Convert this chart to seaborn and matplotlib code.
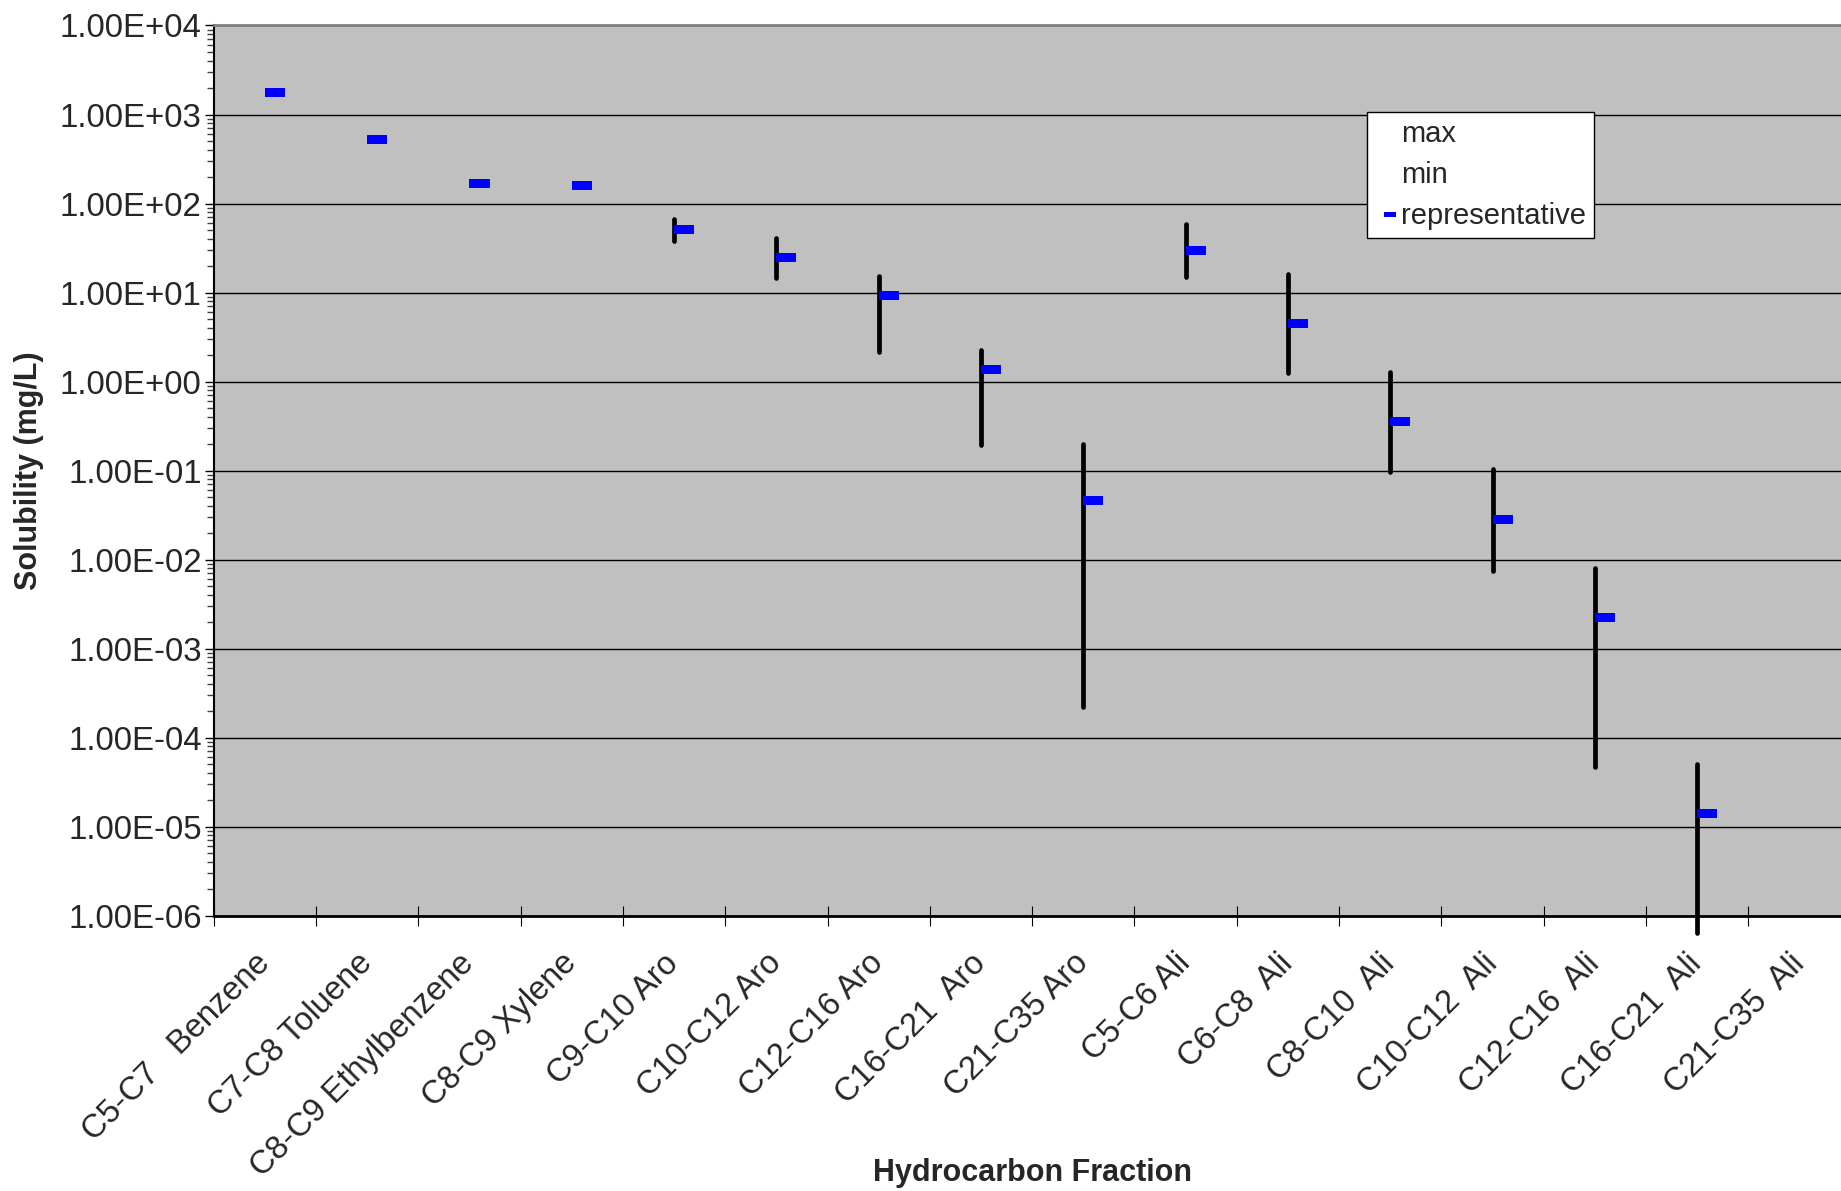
import numpy as np
import pandas as pd
import matplotlib
matplotlib.use("Agg")
import matplotlib.pyplot as plt
import seaborn as sns
from matplotlib.path import Path
from matplotlib.lines import Line2D
from matplotlib.ticker import FuncFormatter, LogLocator, FixedLocator, NullFormatter

# values (mg/L)
fractions = ["C5-C7   Benzene", "C7-C8 Toluene", "C8-C9 Ethylbenzene", "C8-C9 Xylene",
             "C9-C10 Aro", "C10-C12 Aro", "C12-C16 Aro", "C16-C21  Aro", "C21-C35 Aro",
             "C5-C6 Ali", "C6-C8  Ali", "C8-C10  Ali", "C10-C12  Ali", "C12-C16  Ali",
             "C16-C21  Ali", "C21-C35  Ali"]
max_sol = [1750, 526, 169, 160, 66.7, 41.2, 15.5, 2.26, 0.2,
           58.2, 16.3, 1.29, 0.103, 0.0081, 5.1e-5, np.nan]
min_sol = [1750, 526, 169, 160, 38.1, 14.5, 2.14, 0.192, 2.2e-4,
           15.1, 1.24, 0.0965, 0.00746, 4.7e-5, 6.4e-7, np.nan]
rep_sol = [1750, 526, 169, 160, 51.2, 24.6, 9.3, 1.36, 0.046,
           29.9, 4.52, 0.354, 0.0281, 0.00222, 1.4e-5, np.nan]

df = pd.DataFrame({"fraction": fractions, "max": max_sol, "min": min_sol, "rep": rep_sol})
df["pos"] = np.arange(len(df))

sns.set_style("ticks")
plt.rcParams["font.family"] = ["Liberation Sans", "DejaVu Sans"]

fig = plt.figure(figsize=(18.41, 11.91), dpi=100)
ax = fig.add_axes([0.1161, 0.2312, 0.8891, 0.7474])
ax.set_facecolor("#C0C0C0")

# dash marker starting at the data point and running to the right (Excel style)
dash_right = Path([(0, -0.225), (1, -0.225), (1, 0.225), (0, 0.225), (0, -0.225)],
                  [Path.MOVETO, Path.LINETO, Path.LINETO, Path.LINETO, Path.CLOSEPOLY])
dash_center = Path([(-0.5, -0.225), (0.5, -0.225), (0.5, 0.225), (-0.5, 0.225), (-0.5, -0.225)],
                   [Path.MOVETO, Path.LINETO, Path.LINETO, Path.LINETO, Path.CLOSEPOLY])

# high-low lines
rng = df.dropna()
ax.vlines(rng["pos"], rng["min"], rng["max"], color="black", linewidth=3.4,
          capstyle="round", zorder=3, clip_on=False)

# representative values
sns.scatterplot(data=df, x="pos", y="rep", marker=dash_right, s=830, color="blue",
                linewidth=0, edgecolor="none", zorder=4, ax=ax, legend=False)

ax.set_yscale("log")
ax.set_ylim(1e-6, 1e4)
ax.set_xlim(-0.5, len(df) - 0.5)

ax.yaxis.set_major_locator(LogLocator(base=10, numticks=20))
ax.yaxis.set_minor_locator(LogLocator(base=10, subs=np.arange(2, 10), numticks=200))
ax.yaxis.set_major_formatter(FuncFormatter(lambda v, p: f"{v:.2E}"))
ax.yaxis.set_minor_formatter(NullFormatter())

ax.xaxis.set_major_locator(FixedLocator(np.arange(len(df) + 1) - 0.5))
ax.xaxis.set_major_formatter(NullFormatter())
ax.set_xticks(df["pos"], minor=True)
ax.set_xticklabels(df["fraction"], minor=True, rotation=45, ha="right", va="center",
                   rotation_mode="anchor", fontsize=23.5)

ax.tick_params(axis="y", which="major", direction="out", length=6.7, width=1,
               color="black", labelsize=23.8, pad=2)
ax.tick_params(axis="y", which="minor", direction="out", length=4.8, width=1, color="#404040")
ax.tick_params(axis="x", which="major", direction="inout", length=13.7, width=0.8, color="black")
ax.tick_params(axis="x", which="minor", length=0, pad=31)

ax.grid(axis="y", which="major", color="black", linewidth=1)
ax.set_axisbelow(True)

ax.spines["top"].set_color("#808080")
ax.spines["top"].set_linewidth(2)
ax.spines["right"].set_visible(False)
ax.spines["left"].set_color("black")
ax.spines["left"].set_linewidth(1.5)
ax.spines["bottom"].set_color("black")
ax.spines["bottom"].set_linewidth(2)

ax.set_ylabel("Solubility (mg/L)", fontsize=22, fontweight="bold")
ax.yaxis.set_label_coords(-0.104, 0.5)
ax.set_xlabel("Hydrocarbon Fraction", fontsize=22, fontweight="bold")
ax.xaxis.set_label_coords(0.5, -0.272)

handles = [Line2D([], [], linestyle="none", label="max"),
           Line2D([], [], linestyle="none", label="min"),
           Line2D([], [], linestyle="none", marker=dash_center, markersize=8,
                  markerfacecolor="blue", markeredgewidth=0, label="representative")]
leg = ax.legend(handles=handles, loc="upper left", bbox_to_anchor=(0.7425, 0.9062),
                bbox_transform=fig.transFigure, fontsize=21, frameon=True, fancybox=False,
                framealpha=1, facecolor="white", edgecolor="black", borderaxespad=0,
                handlelength=1.0, handletextpad=-0.12, labelspacing=0.45, borderpad=0.28)
leg.get_frame().set_linewidth(1)

fig.savefig("out.png", dpi=100)
